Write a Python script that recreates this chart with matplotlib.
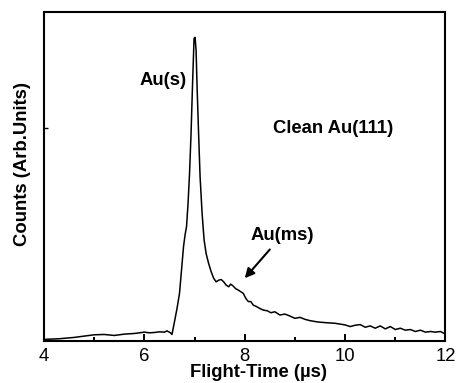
import matplotlib.pyplot as plt
from matplotlib.ticker import FixedLocator, NullFormatter

plt.rcParams["font.family"] = ["Liberation Sans", "DejaVu Sans"]

# Time-of-flight spectrum, clean Au(111)
flight_time = [
    4.00, 4.30, 4.60, 4.90, 5.00, 5.20, 5.40, 5.60, 5.80, 6.00, 6.10, 6.20,
    6.30, 6.40, 6.45, 6.52, 6.55, 6.60, 6.65, 6.70, 6.74, 6.78, 6.81, 6.84,
    6.87, 6.90, 6.93, 6.96, 6.99, 7.01, 7.03, 7.05, 7.08, 7.11, 7.15, 7.19,
    7.23, 7.28, 7.33, 7.38, 7.43, 7.48, 7.53, 7.58, 7.63, 7.68, 7.72, 7.77,
    7.82, 7.87, 7.92, 7.97, 8.02, 8.07, 8.12, 8.17, 8.22, 8.30, 8.37, 8.45,
    8.52, 8.60, 8.70, 8.80, 8.90, 9.00, 9.10, 9.20, 9.30, 9.45, 9.60, 9.80,
    10.0, 10.1, 10.2, 10.3, 10.4, 10.5, 10.6, 10.7, 10.8, 10.9, 11.0, 11.1,
    11.2, 11.3, 11.4, 11.5, 11.6, 11.7, 11.8, 11.9, 12.0,
]
counts = [
    0.4, 0.6, 1.0, 1.6, 1.8, 1.9, 1.6, 2.0, 2.2, 2.6, 2.4, 2.5,
    2.7, 2.6, 3.0, 2.4, 1.9, 5.8, 9.8, 14.4, 21.5, 28.6, 32.1, 34.7,
    41.7, 50.9, 63.0, 78.2, 91.9, 92.2, 88.3, 77.2, 63.0, 49.8, 38.7, 30.6,
    26.5, 23.5, 21.0, 19.0, 17.9, 18.4, 18.6, 17.9, 16.9, 16.4, 17.2, 16.6,
    15.8, 15.4, 14.9, 14.4, 12.9, 11.9, 11.9, 10.8, 10.5, 9.8, 9.3, 9.1,
    8.5, 8.8, 7.8, 8.1, 7.5, 6.8, 7.1, 6.5, 6.1, 5.7, 5.5, 5.3,
    4.8, 4.3, 4.7, 4.9, 4.1, 4.5, 3.8, 4.5, 3.6, 4.3, 3.4, 3.8,
    3.2, 3.4, 2.8, 3.2, 2.6, 2.8, 2.6, 2.8, 2.0,
]

x_major = [4, 6, 8, 10, 12]
x_minor = [5, 7, 9, 11]

fig = plt.figure(figsize=(4.58, 3.83), dpi=100)
ax = fig.add_axes([0.0961, 0.1104, 0.8766, 0.8591])

ax.plot(flight_time, counts, color="black", lw=1.1)

ax.set_xlim(4, 12)
ax.set_ylim(0, 100)

ax.xaxis.set_major_locator(FixedLocator(x_major))
ax.xaxis.set_minor_locator(FixedLocator(x_minor))
ax.yaxis.set_major_locator(FixedLocator([64.7]))
ax.yaxis.set_major_formatter(NullFormatter())
ax.tick_params(axis="x", which="major", direction="in", length=5, width=1.4,
               labelsize=13.3, pad=5)
ax.tick_params(axis="x", which="minor", direction="in", length=3, width=1.4)
ax.tick_params(axis="y", which="major", direction="in", length=3, width=1.0)
for sp in ax.spines.values():
    sp.set_linewidth(1.5)

ax.set_xlabel("Flight-Time (µs)", fontsize=13.3, fontweight="bold")
ax.set_ylabel("Counts (Arb.Units)", fontsize=13.3, fontweight="bold")
ax.xaxis.set_label_coords(0.535, -0.07)
ax.yaxis.set_label_coords(-0.033, 0.537)

ax.text(6.37, 79.2, "Au(s)", fontsize=13.3, fontweight="bold",
        ha="center", va="center")
ax.text(9.76, 64.6, "Clean Au(111)", fontsize=13.3, fontweight="bold",
        ha="center", va="center")
ax.annotate("Au(ms)", xy=(8.0, 19.0), xytext=(8.75, 32.1),
            fontsize=13.3, fontweight="bold", ha="center", va="center",
            arrowprops=dict(arrowstyle="-|>", color="black", lw=1.5,
                            mutation_scale=14, shrinkA=3, shrinkB=0))

fig.savefig("out.png", dpi=100)
